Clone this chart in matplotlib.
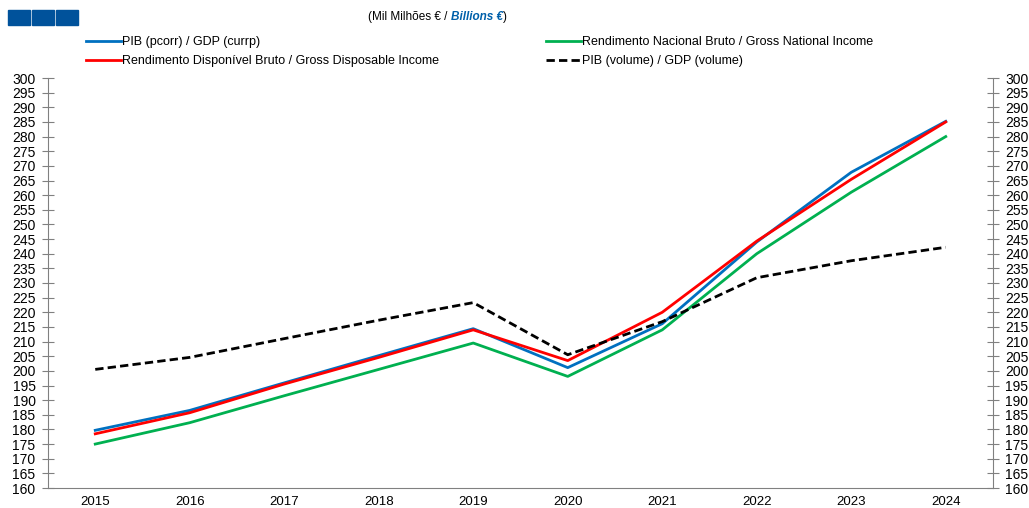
import matplotlib.pyplot as plt
import matplotlib.patches as patches

plt.rcParams["font.family"] = ["Liberation Sans", "DejaVu Sans"]

# Data (Mil Milhões € / Billions €)
years = ["2015", "2016", "2017", "2018", "2019", "2020", "2021", "2022", "2023", "2024"]
gdp_curr = [179.7, 186.5, 195.9, 205.2, 214.4, 201.1, 216.1, 244.0, 267.8, 285.2]
gni = [175.0, 182.3, 191.5, 200.5, 209.5, 198.1, 214.0, 240.0, 261.0, 280.0]
gdi = [178.5, 185.7, 195.5, 204.6, 214.0, 203.5, 220.0, 244.3, 265.4, 285.0]
gdp_vol = [200.5, 204.6, 211.0, 217.3, 223.3, 205.5, 216.8, 231.8, 237.6, 242.2]

labels = [
    "PIB (pcorr) / GDP (currp)",
    "Rendimento Disponível Bruto / Gross Disposable Income",
    "Rendimento Nacional Bruto / Gross National Income",
    "PIB (volume) / GDP (volume)",
]

BLUE = "#0070C0"
GREEN = "#00B050"
RED = "#FF0000"
GREY = "#808080"

W, H = 1029, 508
fig = plt.figure(figsize=(W / 100, H / 100), dpi=100)
ax = fig.add_axes([48 / W, 1 - 488 / H, (993 - 48) / W, (488 - 78) / H])

x = range(len(years))
l1, = ax.plot(x, gdp_curr, color=BLUE, lw=2)
l3, = ax.plot(x, gni, color=GREEN, lw=2)
l2, = ax.plot(x, gdi, color=RED, lw=2)
l4, = ax.plot(x, gdp_vol, color="black", lw=2, ls=(0, (3, 1.5)))

ax.set_xlim(-0.5, len(years) - 0.5)
ax.set_ylim(160, 300)
ax.set_xticks(list(x))
ax.set_xticklabels(years, fontsize=9.5)
ax.set_yticks(range(160, 301, 5))
ax.tick_params(axis="x", length=0, pad=6)
ax.tick_params(axis="y", direction="inout", length=8, color=GREY, labelsize=10,
               left=True, right=True, labelleft=True, labelright=True, pad=5)
for side in ["left", "right", "bottom"]:
    ax.spines[side].set_color(GREY)
ax.spines["top"].set_visible(False)

fig.legend([l1, l2, l3, l4], labels, ncol=2, loc="upper left",
           bbox_to_anchor=(86 / W, 1 - 36 / H), frameon=False, fontsize=9,
           handlelength=2.8, handletextpad=0.1, columnspacing=8.5,
           labelspacing=0.55, borderaxespad=0, borderpad=0)

# header: three blue squares and units
for i in range(3):
    fig.patches.append(patches.Rectangle(((8 + i * 24) / W, 1 - 25 / H), 22 / W, 15 / H,
                                         transform=fig.transFigure, color="#00529B"))
ty = 1 - 17 / H
t1 = fig.text(368 / W, ty, "(Mil Milhões € / ", ha="left", va="center", fontsize=8.5)
fig.canvas.draw()
r = fig.canvas.get_renderer()
x1 = t1.get_window_extent(r).x1
t2 = fig.text(x1 / W, ty, "Billions €", ha="left", va="center", fontsize=8.5,
              color="#0060AA", fontweight="bold", style="italic")
x2 = t2.get_window_extent(r).x1
fig.text(x2 / W, ty, ")", ha="left", va="center", fontsize=8.5)

fig.savefig("out.png", dpi=100)
